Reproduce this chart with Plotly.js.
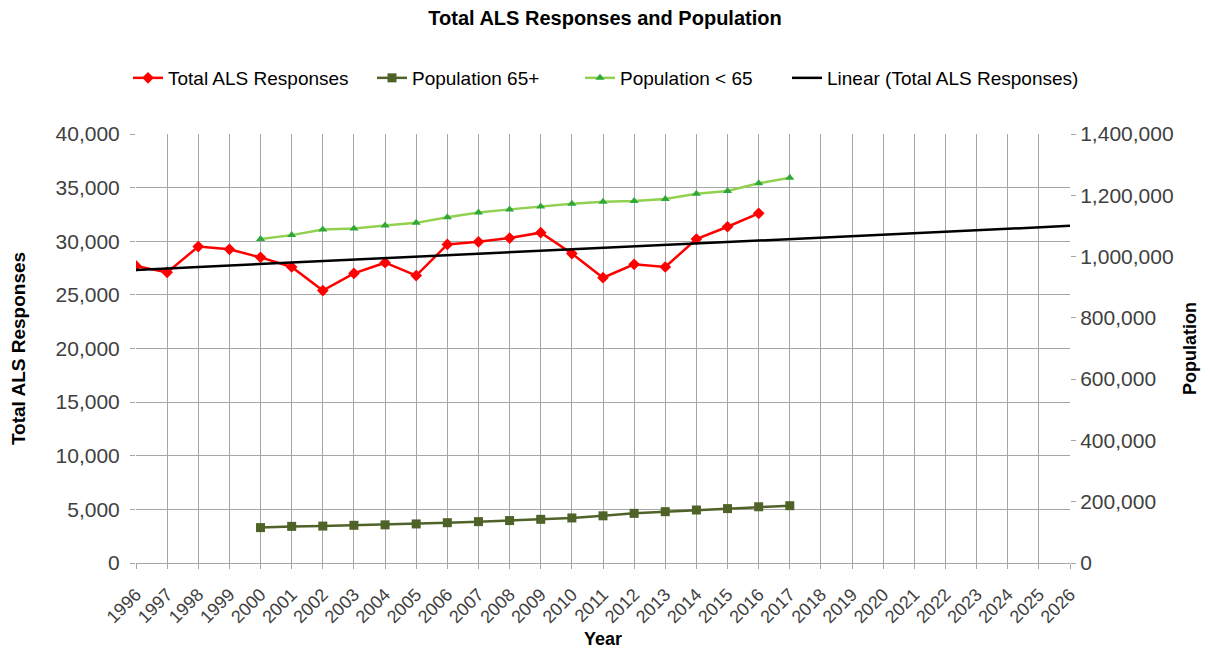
<!DOCTYPE html>
<html>
<head>
<meta charset="utf-8">
<script src="https://cdn.plot.ly/plotly-3.0.1.min.js"></script>
<style>html,body{margin:0;padding:0;background:#fff;}#chart{width:1210px;height:654px;}</style>
</head>
<body>
<div id="chart"></div>
<script>
const alsYears = [1996,1997,1998,1999,2000,2001,2002,2003,2004,2005,2006,2007,2008,2009,2010,2011,2012,2013,2014,2015,2016];
const alsResponses = [27700,27100,29500,29250,28500,27600,25400,27000,28000,26800,29700,29950,30300,30800,28850,26600,27850,27600,30200,31350,32600];
const popYears = [2000,2001,2002,2003,2004,2005,2006,2007,2008,2009,2010,2011,2012,2013,2014,2015,2016,2017];
const pop65Plus = [115500,119500,120500,123000,124500,127500,131500,135000,138500,142500,147000,154000,162000,167500,173000,177500,183500,187000];
const popUnder65 = [1057000,1070000,1088000,1092000,1101000,1110000,1128000,1144000,1154000,1163000,1172500,1179000,1181000,1188000,1205000,1214000,1239000,1257000];
const trendYears = [1996, 2026];
const xTicks = [];
for (let y = 1996; y <= 2026; y++) xTicks.push(y);

// least-squares linear trend of Total ALS Responses
const n = alsYears.length;
const mx = alsYears.reduce((a,b)=>a+b,0)/n;
const my = alsResponses.reduce((a,b)=>a+b,0)/n;
let sxy = 0, sxx = 0;
for (let i = 0; i < n; i++) { sxy += (alsYears[i]-mx)*(alsResponses[i]-my); sxx += (alsYears[i]-mx)**2; }
const slope = sxy/sxx, intercept = my - slope*mx;
const trendValues = trendYears.map(x => intercept + slope*x);

const FONT = '"Liberation Sans", Arial, sans-serif';

const traces = [
  {x: alsYears, y: alsResponses, name: 'Total ALS Responses', mode: 'lines+markers', legend: 'legend',
   line: {color: '#FF0000', width: 2.5}, marker: {symbol: 'diamond', size: 9, color: '#FF0000'}},
  {x: popYears, y: pop65Plus, name: 'Population 65+', mode: 'lines+markers', yaxis: 'y2', legend: 'legend2',
   line: {color: '#4F6228', width: 2.5}, marker: {symbol: 'square', size: 9, color: '#4F6228'}},
  {x: popYears, y: popUnder65, name: 'Population < 65', mode: 'lines+markers', yaxis: 'y2', legend: 'legend3',
   line: {color: '#92D050', width: 2.5}, marker: {symbol: 'triangle-up', size: 8, color: '#2FA83A'}},
  {x: trendYears, y: trendValues, name: 'Linear (Total ALS Responses)', mode: 'lines', legend: 'legend4',
   line: {color: '#000000', width: 2.5}}
];

function leg(xpx) {
  return {orientation: 'h', x: (xpx - 136) / 934, xanchor: 'left', y: (563 - 78) / 429, yanchor: 'middle',
          font: {family: FONT, size: 19, color: '#000'}, bgcolor: 'rgba(0,0,0,0)', itemwidth: 30};
}

const layout = {
  width: 1210, height: 654,
  margin: {l: 136, r: 140, t: 134, b: 91},
  paper_bgcolor: '#fff', plot_bgcolor: '#fff',
  font: {family: FONT, size: 18, color: '#404040'},
  title: {text: '<b>Total ALS Responses and Population</b>', font: {family: FONT, size: 20, color: '#000'}, x: 0.5, xanchor: 'center', y: 0.972, yanchor: 'middle'},
  showlegend: true,
  legend: leg(128), legend2: leg(372), legend3: leg(580), legend4: leg(787),
  xaxis: {
    range: [1996, 2026], tickmode: 'array', tickvals: xTicks, ticktext: xTicks.map(String),
    tickangle: -45, showgrid: true, gridcolor: '#A6A6A6', gridwidth: 1,
    showline: true, linecolor: '#A6A6A6', linewidth: 1, zeroline: false,
    ticks: 'outside', ticklen: 5, tickcolor: '#A6A6A6', ticklabelstandoff: 8,
    tickfont: {family: FONT, size: 18, color: '#404040'},
    title: {text: '<b>Year</b>', font: {family: FONT, size: 18, color: '#000'}, standoff: 6}
  },
  yaxis: {
    range: [0, 40000], dtick: 5000, tickformat: ',d', showgrid: true, gridcolor: '#A6A6A6', gridwidth: 1,
    zeroline: false, showline: false, ticks: 'outside', ticklen: 5, tickcolor: '#A6A6A6', ticklabelstandoff: 6,
    tickfont: {family: FONT, size: 21, color: '#404040'},
    title: {text: '<b>Total ALS Responses</b>', font: {family: FONT, size: 19, color: '#000'}, standoff: 24}
  },
  yaxis2: {
    range: [0, 1400000], dtick: 200000, tickformat: ',d', overlaying: 'y', side: 'right',
    showgrid: false, zeroline: false, showline: false, ticks: 'outside', ticklen: 5, tickcolor: '#A6A6A6',
    tickfont: {family: FONT, size: 21, color: '#404040'},
    title: {text: '<b>Population</b>', font: {family: FONT, size: 18, color: '#000'}, standoff: 10}
  }
};

Plotly.newPlot('chart', traces, layout, {displayModeBar: false, responsive: false});
</script>
</body>
</html>
